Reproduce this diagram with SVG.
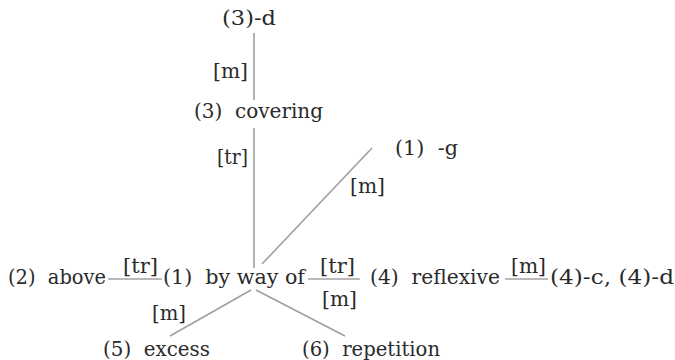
<svg xmlns="http://www.w3.org/2000/svg" width="675" height="360" viewBox="0 0 675 360">
<style>
text{font-family:"DejaVu Serif","Liberation Serif",serif;font-size:20px;fill:#2a2a2a;white-space:pre}
.c line{stroke:#a0a0a0;stroke-width:1.6}
</style>
<rect width="675" height="360" fill="#fff"/>
<g class="c" id="connectors">
<line x1="254" y1="33" x2="254" y2="100"/>
<line x1="254" y1="128" x2="254" y2="268"/>
<line x1="262" y1="264" x2="372" y2="148"/>
<line x1="108" y1="279" x2="162" y2="279"/>
<line x1="308" y1="279" x2="360" y2="279"/>
<line x1="505" y1="279" x2="548" y2="279"/>
<line x1="251" y1="290" x2="170" y2="336"/>
<line x1="256" y1="290" x2="345" y2="336"/>
<text x="213" y="78" textLength="35" lengthAdjust="spacingAndGlyphs">[m]</text>
<text x="217" y="164" textLength="31" lengthAdjust="spacingAndGlyphs">[tr]</text>
<text x="350" y="193" textLength="35" lengthAdjust="spacingAndGlyphs">[m]</text>
<text x="123" y="273" textLength="35" lengthAdjust="spacingAndGlyphs">[tr]</text>
<text x="320" y="273" textLength="35" lengthAdjust="spacingAndGlyphs">[tr]</text>
<text x="511" y="273" textLength="35" lengthAdjust="spacingAndGlyphs">[m]</text>
<text x="152" y="320" textLength="34" lengthAdjust="spacingAndGlyphs">[m]</text>
<text x="322" y="306" textLength="35" lengthAdjust="spacingAndGlyphs">[m]</text>
</g>
<g id="n3d"><text x="222" y="25" textLength="54" lengthAdjust="spacingAndGlyphs">(3)-d</text></g>
<g id="n3"><text x="194" y="118" textLength="129" lengthAdjust="spacingAndGlyphs">(3)  covering</text></g>
<g id="n1g"><text x="395" y="155" textLength="63" lengthAdjust="spacingAndGlyphs">(1)  -g</text></g>
<g id="n2"><text x="8" y="284" textLength="98" lengthAdjust="spacingAndGlyphs">(2)  above</text></g>
<g id="n1"><text x="163" y="284" textLength="142" lengthAdjust="spacingAndGlyphs">(1)  by way of</text></g>
<g id="n4"><text x="370" y="284" textLength="130" lengthAdjust="spacingAndGlyphs">(4)  reflexive</text></g>
<g id="n4cd"><text x="550" y="284" textLength="124" lengthAdjust="spacingAndGlyphs">(4)-c, (4)-d</text></g>
<g id="n5"><text x="103" y="356" textLength="107" lengthAdjust="spacingAndGlyphs">(5)  excess</text></g>
<g id="n6"><text x="302" y="356" textLength="138" lengthAdjust="spacingAndGlyphs">(6)  repetition</text></g>
</svg>
